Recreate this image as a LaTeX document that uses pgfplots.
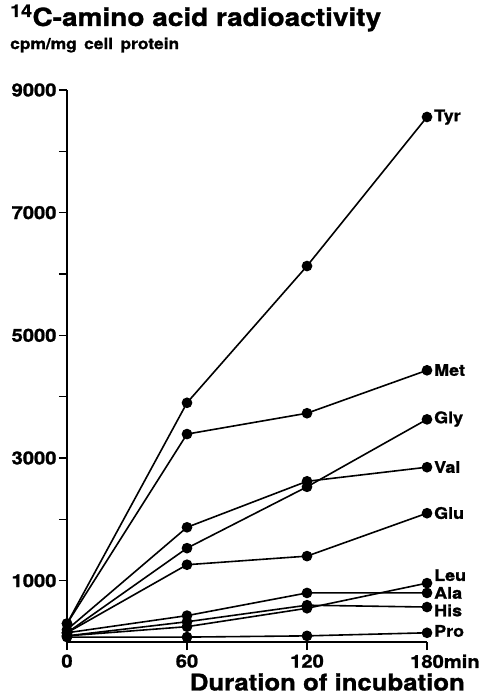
\documentclass[border=0pt]{standalone}
\usepackage{fontspec}
\setmainfont{TeX Gyre Heros}[FakeStretch=1.12, BoldFeatures={FakeBold=1.2}]
\usepackage{pgfplots}
\pgfplotsset{compat=1.18}
\begin{document}
\begin{tikzpicture}[ser/.style={black, solid, line width=1.6pt, mark=*, mark size=4.5pt, mark options={solid, fill=black}}]
\useasboundingbox (-67pt,-53pt) rectangle (415pt,642pt);
\begin{axis}[
  at={(0pt,0pt)}, anchor=south west,
  scale only axis, width=360pt, height=552pt,
  xmin=0, xmax=180, ymin=0, ymax=9000,
  axis lines=left, axis line style={-, line width=1.7pt},
  tick align=outside, major tick length=8pt,
  tick style={line width=1.5pt, black},
  xtick={0,60,120,180}, xticklabels={0,60,120,180\rlap{min}},
  ytick={1000,2000,...,9000}, yticklabels={1000,,3000,,5000,,7000,,9000},
  /pgf/number format/assume math mode=true,
  ticklabel style={font=\bfseries\fontsize{18}{18}\selectfont},
  xticklabel style={yshift=-1pt},
  yticklabel style={xshift=1pt},
  scaled y ticks=false,
  clip=false,
]
\addplot[ser] coordinates {(0,300) (60,3900) (120,6130) (180,8560)};
\addplot[ser] coordinates {(0,300) (60,3390) (120,3730) (180,4430)};
\addplot[ser] coordinates {(0,150) (60,1530) (120,2530) (180,3630)};
\addplot[ser] coordinates {(0,200) (60,1870) (120,2620) (180,2850)};
\addplot[ser] coordinates {(0,150) (60,1260) (120,1400) (180,2100)};
\addplot[ser] coordinates {(0,100) (60,250) (120,550) (180,960)};
\addplot[ser] coordinates {(0,150) (60,430) (120,800) (180,800)};
\addplot[ser] coordinates {(0,100) (60,330) (120,600) (180,570)};
\addplot[ser] coordinates {(0,80) (60,80) (120,100) (180,150)};
\begin{scope}[every node/.style={anchor=west, font=\bfseries\fontsize{16}{16}\selectfont, inner sep=0pt}]
\node at (axis cs:180,8557) [xshift=7pt] {Tyr};
\node at (axis cs:180,4434) [xshift=7pt] {Met};
\node at (axis cs:180,3635) [xshift=7pt] {Gly};
\node at (axis cs:180,2852) [xshift=7pt] {Val};
\node at (axis cs:180,2103) [xshift=7pt] {Glu};
\node at (axis cs:180,1090) [xshift=7pt] {Leu};
\node at (axis cs:180,800) [xshift=7pt] {Ala};
\node at (axis cs:180,515) [xshift=7pt] {His};
\node at (axis cs:180,180) [xshift=7pt] {Pro};
\end{scope}
\end{axis}
\node[anchor=west, inner sep=0pt, font=\bfseries\fontsize{25}{25}\selectfont] at (-57pt,624pt) {\textsuperscript{14}C-amino acid radioactivity};
\node[anchor=west, inner sep=0pt, font=\bfseries\fontsize{15.5}{15.5}\selectfont] at (-57pt,597pt) {cpm/mg\, cell\, protein};
\node[anchor=east, inner sep=0pt, font=\bfseries\fontsize{23}{23}\selectfont] at (398pt,-40pt) {Duration of incubation};
\end{tikzpicture}
\end{document}
